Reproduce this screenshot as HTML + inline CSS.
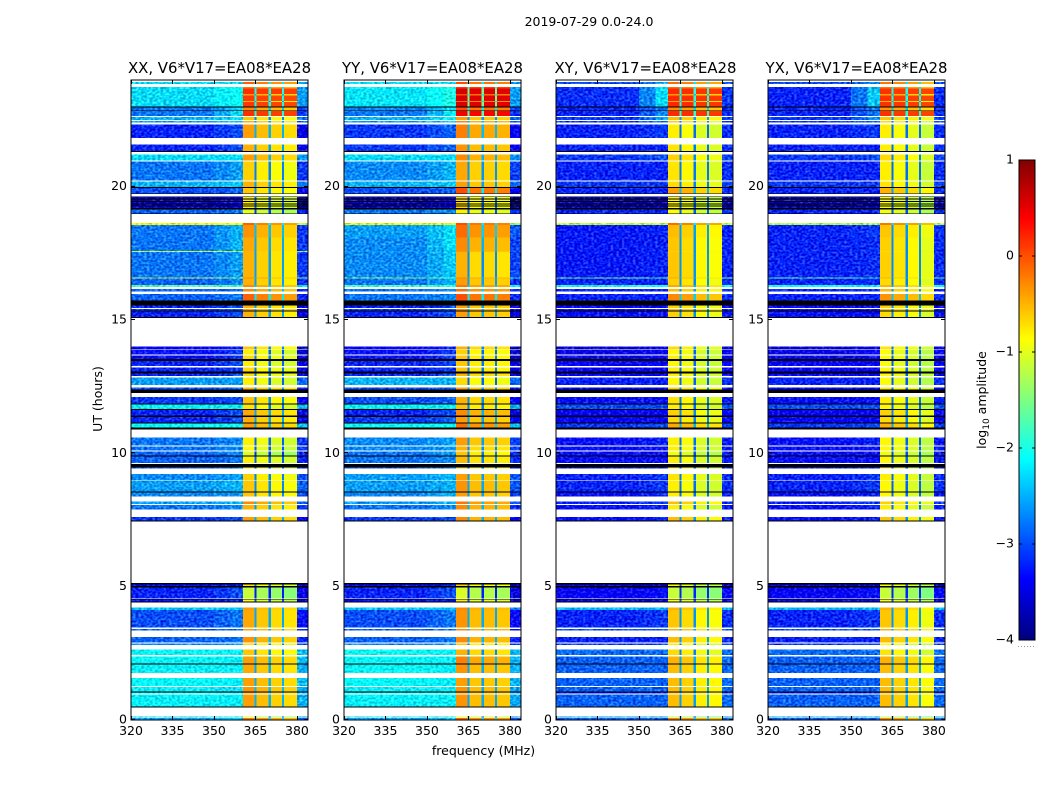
<!DOCTYPE html>
<html lang="en">
<head>
<meta charset="utf-8">
<title>2019-07-29 0.0-24.0</title>
<style>
html,body{margin:0;padding:0;background:#fff;width:1050px;height:800px;overflow:hidden}
svg{display:block}
text{font-family:"DejaVu Sans","Liberation Sans",sans-serif;fill:#000}
</style>
</head>
<body>
<svg id="chart" xmlns="http://www.w3.org/2000/svg" width="1050" height="800" viewBox="0 0 1050 800">
<defs>
<filter id="speckle" filterUnits="userSpaceOnUse" x="0" y="0" width="1050" height="800" color-interpolation-filters="sRGB">
<feTurbulence type="fractalNoise" baseFrequency="0.36 0.48" numOctaves="1" seed="4" result="n"/>
<feColorMatrix in="n" type="matrix" values="1 0 0 0 0 1 0 0 0 0 1 0 0 0 0 0 0 0 0 1" result="g"/>
<feComposite in="SourceGraphic" in2="g" operator="arithmetic" k1="0" k2="1" k3="0.9" k4="-0.45" result="a"/>
<feComposite in="a" in2="SourceAlpha" operator="in"/>
</filter>
</defs>
<rect width="1050" height="800" fill="#fff"/>
<text x="589" y="26" font-size="12.5" text-anchor="middle">2019-07-29 0.0-24.0</text>
<text x="483.5" y="755" font-size="12.5" text-anchor="middle">frequency (MHz)</text>
<text transform="translate(102,399) rotate(-90)" font-size="12.5" text-anchor="middle">UT (hours)</text>
<text transform="translate(986,400) rotate(-90)" font-size="12.5" text-anchor="middle">log<tspan font-size="9" dy="3">10</tspan><tspan dy="-3"> amplitude</tspan></text>
<g id="panels"></g>
<g id="colorbar"></g>
</svg>
<script>
// Chart data: UT hours, MHz and log10 amplitude.
const panelNames = ["XX", "YY", "XY", "YX"];
const baseline = "V6*V17=EA08*EA28";
const xTicks = [320, 335, 350, 365, 380];
const yTicks = [0, 5, 10, 15, 20];
const colorTicks = [-4, -3, -2, -1, 0, 1];

const segStart = [0,.1,.51,.99,1.06,1.27,1.76,2.11,2.43,2.81,2.9,3.36,3.46,4.13,4.45,4.55,5.02,7.48,7.89,8.1,8.38,8.56,9,9.44,9.64,9.91,10.1,10.29,10.97,11.16,11.42,11.66,11.87,12.39,12.57,12.9,13.07,13.28,13.53,13.7,13.9,15.12,15.35,15.45,15.74,16.07,16.24,16.32,16.56,16.6,17.55,17.59,18.1,18.56,18.99,19.2,19.75,19.99,20.24,20.99,21.34,21.83,22.4,22.5,22.65,22.86,23.01,23.17,23.22,23.42,23.47,23.68,23.85];
const segEnd = [.075,.14,.96,1.03,1.24,1.57,2.09,2.39,2.64,2.86,3.11,3.42,4.13,4.22,4.52,4.96,5.09,7.62,8.07,8.19,8.53,8.98,9.23,9.47,9.89,10.07,10.25,10.6,11.12,11.37,11.62,11.84,12.12,12.47,12.85,13,13.22,13.47,13.66,13.87,14,15.31,15.41,15.54,15.97,16.16,16.32,16.56,16.6,17.55,17.59,18.1,18.56,18.63,19.15,19.64,19.95,20.2,20.95,21.2,21.58,22.33,22.46,22.61,22.83,22.97,23.17,23.22,23.42,23.47,23.68,23.73,23.93];

const lowXX = [-2.6,-2.3,-2.2,-2.2,-2.2,-2.15,-2.2,-2.15,-2.15,-2.7,-2.9,-2.9,-3,-2.4,-3.3,-3.2,-3.3,-3.1,-2.8,-2.6,-2.7,-2.6,-2.7,-2.9,-2.9,-2.9,-2.8,-2.8,-2.1,-3.2,-3.2,-2.2,-3.1,-3,-2.6,-3.2,-3.2,-3.2,-3.3,-3.3,-3.4,-3.2,-3.1,-3.2,-2.9,-2.9,-1.7,-2.9,-1.3,-2.8,-1.2,-2.8,-2.8,-.9,-2.9,-3.6,-3,-2.5,-2.8,-2.3,-3.2,-3.2,-2.6,-2.5,-2.8,-2.8,-2.3,-2.3,-2.3,-2.3,-2.3,-2.3,-2.3];
const midXX = [-2.4,-2.2,-2.2,-2.3,-2.3,-2.2,-2.2,-2.2,-2.2,-2.6,-2.8,-2.8,-2.8,-2.4,-3.2,-3,-3.2,-3,-2.7,-2.5,-2.6,-2.5,-2.6,-2.8,-2.8,-2.7,-2.7,-2.7,-2.1,-3,-3,-2.2,-3,-2.9,-2.6,-3,-3.1,-3,-3.1,-3.1,-3.2,-3,-3,-3,-2.8,-2.8,-1.8,-2.7,-1.5,-2.6,-1.3,-2.5,-2.5,-.9,-2.8,-3.4,-2.9,-2.4,-2.6,-2.3,-3,-3,-2.4,-2.3,-2.3,-2.4,-2.1,-2.1,-2.1,-2.1,-2.1,-2.1,-2.3];
const bandXX = [-.2,-1,-.4,-.35,-.35,-.4,-.45,-.4,-.6,-.7,-.35,-.4,-.45,-.4,-.9,-1.15,-.75,-.4,-.5,-.3,-.6,-.6,-.65,-.8,-.8,-1.05,-.85,-.8,-.4,-.5,-.45,-.75,-.6,-.5,-.8,-.7,-.7,-.8,-.7,-.8,-.6,-.5,-.4,-.5,-.1,-.3,-.3,-.5,-.3,-.5,-.5,-.45,-.35,-.1,-1,-.8,-.6,-.5,-.65,-.4,-.5,-.4,-.5,-.6,.15,-.3,.1,-.5,.1,-.4,.15,-.2,-.1];

const lowYY = [-2.6,-2.3,-2.2,-2.2,-2.2,-2.15,-2.15,-2.15,-2.1,-2.7,-2.9,-2.9,-3,-2.4,-3.3,-3.2,-3.3,-3.1,-2.8,-2.6,-2.7,-2.6,-2.6,-2.9,-2.8,-2.8,-2.7,-2.7,-2.1,-3.1,-3.2,-2.2,-3,-3,-2.5,-3.2,-3.2,-3.2,-3.3,-3.3,-3.4,-3.2,-3.1,-3.2,-2.8,-2.8,-1.8,-2.8,-1.5,-2.7,-2.6,-2.7,-2.6,-1,-2.8,-3.6,-3,-2.5,-2.7,-2.3,-3.1,-3.1,-2.6,-2.5,-2.8,-2.7,-2.25,-2.25,-2.25,-2.25,-2.25,-2.25,-2.3];
const midYY = [-2.4,-2.2,-2.2,-2.2,-2.2,-2.2,-2.2,-2.2,-2.2,-2.6,-2.8,-2.8,-2.8,-2.4,-3.2,-3,-3.2,-3,-2.7,-2.5,-2.5,-2.5,-2.5,-2.8,-2.7,-2.6,-2.6,-2.6,-2.1,-2.9,-3,-2.2,-2.9,-2.9,-2.5,-3,-3.1,-3,-3.1,-3.1,-3.2,-3,-3,-3,-2.7,-2.7,-1.9,-2.5,-1.8,-2.4,-2.4,-2.3,-2.3,-1,-2.7,-3.4,-2.9,-2.4,-2.5,-2.3,-2.9,-2.9,-2.4,-2.2,-2.2,-2.3,-2,-2,-2,-2,-2,-2,-2.3];
const bandYY = [-.2,-1,-.45,-.45,-.45,-.5,-.45,-.35,-.6,-.7,-.4,-.4,-.45,-.4,-.9,-1.15,-.75,-.4,-.4,-.3,-.5,-.45,-.5,-.8,-.65,-.7,-.6,-.5,-.25,-.5,-.4,-.7,-.6,-.5,-.8,-.6,-.7,-.7,-.7,-.75,-.6,-.5,-.4,-.5,-.1,-.25,-.3,-.5,-.35,-.6,-.45,-.4,-.25,-.1,-.9,-.8,-.1,-.5,-.55,-.4,-.45,-.35,-.4,-.5,.4,-.1,.55,-.2,.55,-.1,.55,.1,-.1];

const lowXY = [-2.9,-2.6,-2.9,-3.3,-2.9,-2.9,-2.9,-2.9,-2.85,-3.1,-3.2,-3,-3.2,-2.5,-3.5,-3.4,-3.6,-3.3,-3.3,-3.2,-3.3,-3.2,-3.2,-3.2,-3.3,-3.3,-3.3,-3.3,-3.1,-3.4,-3.4,-3,-3.3,-3.4,-3.2,-3.4,-3.4,-3.4,-3.5,-3.5,-3.6,-3.3,-3.3,-3.4,-3.2,-3.2,-2,-3.2,-1.6,-3.25,-3.25,-3.25,-3.25,-1.2,-3.2,-3.7,-3.2,-3.1,-3.2,-3.1,-3.2,-3.2,-3.1,-3.1,-3.2,-3.2,-3.15,-3.15,-3.15,-3.15,-3.15,-3.15,-3];
const midXY = [-2.9,-2.6,-2.9,-3.2,-2.9,-2.9,-2.9,-2.9,-2.85,-3,-3.2,-3,-3.1,-2.5,-3.5,-3.3,-3.6,-3.2,-3.2,-3.1,-3.2,-3.1,-3.1,-3.2,-3.3,-3.3,-3.3,-3.2,-3,-3.4,-3.4,-3,-3.3,-3.3,-3.2,-3.4,-3.4,-3.4,-3.4,-3.4,-3.5,-3.3,-3.3,-3.3,-3.2,-3.2,-2.1,-3.2,-1.8,-3.2,-3.2,-3.2,-3.2,-1.2,-3.2,-3.6,-3.2,-3.1,-3.2,-3,-3.2,-3.1,-2.7,-2.6,-2.7,-2.8,-2.3,-2.3,-2.3,-2.3,-2.3,-2.3,-2.6];
const bandXY = [-.2,-1.1,-.5,-.45,-.5,-.5,-.5,-.45,-.65,-.75,-.5,-.45,-.55,-.45,-.85,-1.1,-.8,-.5,-.75,-.5,-.75,-.75,-.7,-.8,-.75,-.9,-.75,-.75,-.4,-.65,-.6,-.75,-.7,-.6,-.8,-.75,-.75,-.8,-.75,-.8,-.65,-.6,-.5,-.6,-.25,-.5,-.4,-.6,-.4,-.55,-.6,-.55,-.5,-.1,-.85,-.8,-.35,-.65,-.7,-.6,-.7,-.75,-.6,-.5,.2,-.25,.2,-.4,.2,-.35,.2,-.1,-.1];

const lowYX = [-2.9,-2.6,-2.9,-3.3,-2.9,-2.9,-2.9,-2.9,-2.85,-3.1,-3.2,-3,-3.2,-2.5,-3.5,-3.4,-3.6,-3.3,-3.3,-3.2,-3.3,-3.2,-3.2,-3.2,-3.3,-3.3,-3.3,-3.3,-3.1,-3.4,-3.4,-3,-3.3,-3.4,-3.2,-3.4,-3.4,-3.4,-3.5,-3.5,-3.6,-3.3,-3.3,-3.4,-3.2,-3.2,-2.1,-3.2,-1.7,-3.2,-3.2,-3.2,-3.2,-1.3,-3.2,-3.7,-3.2,-3.1,-3.2,-3.1,-3.2,-3.2,-3.1,-3.1,-3.2,-3.2,-3.2,-3.2,-3.2,-3.2,-3.2,-3.2,-3];
const midYX = [-2.9,-2.6,-2.9,-3.2,-2.9,-2.9,-2.9,-2.9,-2.85,-3,-3.2,-3,-3.1,-2.5,-3.5,-3.3,-3.6,-3.2,-3.2,-3.1,-3.2,-3.1,-3.1,-3.2,-3.3,-3.3,-3.3,-3.2,-3,-3.4,-3.4,-3,-3.3,-3.3,-3.2,-3.4,-3.4,-3.4,-3.4,-3.4,-3.5,-3.3,-3.3,-3.3,-3.2,-3.2,-2.2,-3.2,-1.9,-3.15,-3.15,-3.15,-3.1,-1.3,-3.2,-3.6,-3.2,-3.1,-3.2,-3,-3.2,-3.1,-2.8,-2.7,-2.8,-2.8,-2.4,-2.4,-2.4,-2.4,-2.4,-2.4,-2.7];
const bandYX = [-.25,-1.1,-.5,-.45,-.5,-.5,-.5,-.45,-.7,-.8,-.5,-.45,-.55,-.45,-.85,-1.1,-.8,-.55,-.75,-.6,-.8,-.8,-.75,-.85,-.8,-.9,-.8,-.8,-.45,-.65,-.6,-.8,-.75,-.7,-.85,-.8,-.8,-.85,-.8,-.85,-.7,-.65,-.55,-.6,-.3,-.5,-.45,-.65,-.45,-.6,-.65,-.6,-.55,-.15,-.9,-.85,-.45,-.7,-.75,-.65,-.75,-.75,-.65,-.55,.15,-.3,.15,-.45,.15,-.4,.15,-.15,-.15];

const blackStart = [.475,1.03,2.09,4.4,4.52,4.96,5.09,7.45,8.53,9.47,9.89,10.9,11.12,11.37,11.62,11.84,12.26,13,13.47,15.08,15.31,15.54,18.97,19.15,19.25,19.33,19.43,19.52,19.61,19.73,19.95,21.3,22.83,22.97];
const blackEnd = [.51,1.06,2.11,4.45,4.54,5.02,5.13,7.48,8.56,9.6,9.91,10.97,11.16,11.42,11.66,11.87,12.39,13.07,13.53,15.12,15.35,15.74,18.99,19.2,19.3,19.36,19.46,19.55,19.64,19.75,19.99,21.34,22.86,23.01];

const panelOffsets = [[0,-.15,-.25,-.3],[.1,-.1,-.1,-.15],[-.05,-.15,-.3,-.35],[-.05,-.15,-.25,-.4]];
const edgeChannelLift = [-.3,-.35,.05,.05];

const lowSeries = [lowXX, lowYY, lowXY, lowYX];
const midSeries = [midXX, midYY, midXY, midYX];
const bandSeries = [bandXX, bandYY, bandXY, bandYX];

const svgNS = "http://www.w3.org/2000/svg";
const panelLeft = [131, 344, 556, 768];
const panelWidth = 177;
const plotTop = 80, plotBottom = 720;
const bandEdges = [[360.5,364.6],[365.4,369.8],[370.6,374.6],[375.4,380]];
const gapEdges = [[364.6,365.4],[369.8,370.6],[374.6,375.4]];

function xScale(i, mhz) { return panelLeft[i] + (mhz - 320) * panelWidth / 64; }
function yScale(ut) { return plotBottom - ut * (plotBottom - plotTop) / 24; }
function cScale(v) { return 640 - (v + 4) * 96; }
function jet(v) {
  const t = Math.max(0, Math.min(1, (v + 4) / 5));
  const ramp = c => Math.round(255 * Math.max(0, Math.min(1, 1.5 - Math.abs(4 * t - c))));
  return "rgb(" + ramp(3) + "," + ramp(2) + "," + ramp(1) + ")";
}
function make(tag, parent) {
  const node = document.createElementNS(svgNS, tag);
  parent.appendChild(node);
  return node;
}
function addRect(parent, x0, x1, y0, y1, fill) {
  const r = make("rect", parent);
  r.setAttribute("x", x0);
  r.setAttribute("y", y1);
  r.setAttribute("width", x1 - x0);
  r.setAttribute("height", y0 - y1);
  r.setAttribute("fill", fill);
  r.setAttribute("shape-rendering", "crispEdges");
  return r;
}
function addLine(parent, x1, y1, x2, y2) {
  const l = make("line", parent);
  l.setAttribute("x1", x1);
  l.setAttribute("y1", y1);
  l.setAttribute("x2", x2);
  l.setAttribute("y2", y2);
  l.setAttribute("stroke", "#000");
  l.setAttribute("stroke-width", "1");
  return l;
}

const panelsRoot = document.getElementById("panels");
panelNames.forEach((name, p) => {
  const panel = make("g", panelsRoot);
  
  

  const lowGroup = make("g", panel);
  
  
  lowGroup.setAttribute("filter", "url(#speckle)");
  const bandGroup = make("g", panel);
  
  
  const blackGroup = make("g", panel);
  
  

  segStart.forEach((t0, s) => {
    const y0 = yScale(t0), y1 = yScale(segEnd[s]);
    const low = lowSeries[p][s], mid = midSeries[p][s], band = bandSeries[p][s];
    const a = addRect(lowGroup, xScale(p, 320), xScale(p, 350), y0, y1, jet(low));
    
    
    const m = addRect(lowGroup, xScale(p, 350), xScale(p, 356), y0, y1, jet((low + mid) / 2));
    
    
    const b = addRect(lowGroup, xScale(p, 356), xScale(p, 360.5), y0, y1, jet(mid));
    
    
    const e = addRect(lowGroup, xScale(p, 380), xScale(p, 384), y0, y1, jet(low + edgeChannelLift[p]));
    
    
    bandEdges.forEach((edge, k) => {
      const weight = band < 0 ? 1 : 0.25;
      const c = addRect(bandGroup, xScale(p, edge[0]), xScale(p, edge[1]), y0, y1, jet(band + panelOffsets[p][k] * weight));
      
      
    });
    gapEdges.forEach(edge => {
      const g = addRect(bandGroup, xScale(p, edge[0]), xScale(p, edge[1]), y0, y1, jet(band - 2.1));
      
      
    });
  });

  blackStart.forEach((t0, b) => {
    const r = addRect(blackGroup, xScale(p, 320), xScale(p, 384), yScale(t0), yScale(blackEnd[b]), "#000");
    
    
  });

  const L = panelLeft[p], R = L + panelWidth;
  const frame = make("rect", panel);
  
  
  frame.setAttribute("x", L);
  frame.setAttribute("y", plotTop);
  frame.setAttribute("width", panelWidth);
  frame.setAttribute("height", plotBottom - plotTop);
  frame.setAttribute("fill", "none");
  frame.setAttribute("stroke", "#000");

  xTicks.forEach(tick => {
    const x = Math.round(xScale(p, tick)) + .5;
    const t1 = addLine(panel, x, plotBottom, x, plotBottom - 4);
    
    
    const t2 = addLine(panel, x, plotTop, x, plotTop + 4);
    
    
    const label = make("text", panel);
    
    
    label.setAttribute("x", xScale(p, tick));
    label.setAttribute("y", 735);
    label.setAttribute("font-size", "12.5");
    label.setAttribute("text-anchor", "middle");
    label.textContent = tick;
  });
  yTicks.forEach(tick => {
    const y = Math.round(yScale(tick)) - .5;
    const t1 = addLine(panel, L, y, L + 4, y);
    
    
    const t2 = addLine(panel, R, y, R - 4, y);
    
    
    const label = make("text", panel);
    
    
    label.setAttribute("x", L - 4);
    label.setAttribute("y", yScale(tick) + 3.5);
    label.setAttribute("font-size", "12.5");
    label.setAttribute("text-anchor", "end");
    label.textContent = tick;
  });

  const title = make("text", panel);
  
  
  title.setAttribute("x", L + panelWidth / 2 + (p === 2 ? 1 : 0));
  title.setAttribute("y", 73);
  title.setAttribute("font-size", "14.9");
  title.setAttribute("text-anchor", "middle");
  title.textContent = name + ", " + baseline;
});

const cbRoot = document.getElementById("colorbar");
for (let v = -4; v < 1; v += 0.02) {
  const r = addRect(cbRoot, 1019, 1035, cScale(v), cScale(v + 0.02) - .6, jet(v));
  
  
}
const cbFrame = make("rect", cbRoot);


cbFrame.setAttribute("x", 1019);
cbFrame.setAttribute("y", 160);
cbFrame.setAttribute("width", 16);
cbFrame.setAttribute("height", 480);
cbFrame.setAttribute("fill", "none");
cbFrame.setAttribute("stroke", "#000");

colorTicks.forEach(tick => {
  const y = cScale(tick);
  [1019, 1035].forEach(x => {
    const inner = addLine(cbRoot, x, y, x === 1019 ? 1022 : 1032, y);
    
    
  });
  const label = make("text", cbRoot);
  
  
  label.setAttribute("x", 1014);
  label.setAttribute("y", y + 3.5);
  label.setAttribute("font-size", "12.5");
  label.setAttribute("text-anchor", "end");
  label.textContent = tick < 0 ? "\u2212" + Math.abs(tick) : tick;
});
const dots = make("line", cbRoot);


dots.setAttribute("x1", 1018);
dots.setAttribute("y1", 646.5);
dots.setAttribute("x2", 1035);
dots.setAttribute("y2", 646.5);
dots.setAttribute("stroke", "#999");
dots.setAttribute("stroke-dasharray", "1 2");
</script>
</body>
</html>
